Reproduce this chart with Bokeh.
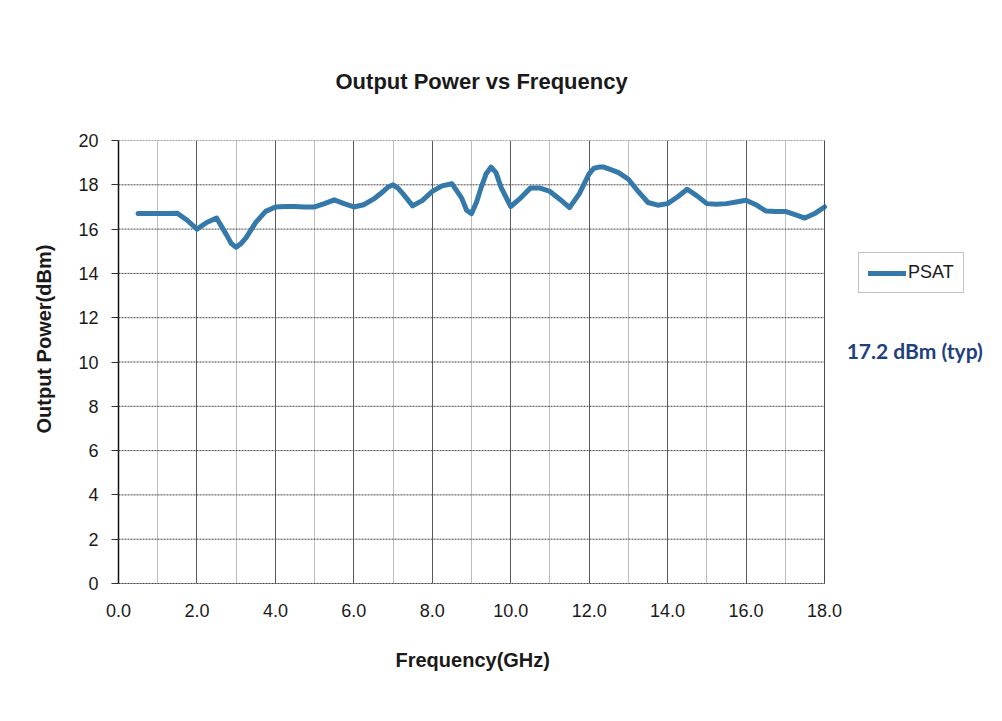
from bokeh.plotting import figure
from bokeh.models import (Range1d, FixedTicker, Label, Legend, LegendItem, Span, Title,
                          CustomJSTickFormatter)
from bokeh.embed import file_html
from bokeh.resources import INLINE

# ---- data ----
freq_ghz = [0.5, 0.75, 1.0, 1.25, 1.5, 1.75, 2.0, 2.25, 2.5, 2.75, 2.875, 3.0, 3.125, 3.25,
            3.5, 3.75, 4.0, 4.25, 4.5, 4.75, 5.0, 5.25, 5.5, 5.75, 6.0, 6.25, 6.5, 6.75,
            6.875, 7.0, 7.125, 7.25, 7.5, 7.75, 8.0, 8.25, 8.5, 8.75, 8.875, 9.0, 9.125,
            9.25, 9.375, 9.5, 9.625, 9.75, 10.0, 10.25, 10.5, 10.75, 11.0, 11.25, 11.5,
            11.75, 12.0, 12.125, 12.25, 12.375, 12.5, 12.75, 13.0, 13.25, 13.5, 13.75,
            14.0, 14.25, 14.5, 14.75, 15.0, 15.25, 15.5, 15.75, 16.0, 16.25, 16.5, 16.75,
            17.0, 17.25, 17.5, 17.75, 18.0]
psat_dbm = [16.7, 16.7, 16.7, 16.7, 16.72, 16.4, 16.0, 16.3, 16.5, 15.75, 15.35, 15.18, 15.35,
            15.6, 16.3, 16.8, 17.0, 17.02, 17.02, 17.0, 17.0, 17.15, 17.32, 17.15, 17.0,
            17.1, 17.35, 17.7, 17.9, 18.0, 17.85, 17.6, 17.05, 17.3, 17.7, 17.95, 18.05,
            17.4, 16.85, 16.7, 17.2, 17.9, 18.5, 18.8, 18.55, 17.9, 17.02, 17.4, 17.85,
            17.85, 17.7, 17.35, 16.97, 17.6, 18.5, 18.75, 18.8, 18.8, 18.72, 18.55, 18.25,
            17.7, 17.2, 17.08, 17.15, 17.45, 17.8, 17.5, 17.15, 17.12, 17.15, 17.22, 17.3,
            17.1, 16.82, 16.8, 16.8, 16.65, 16.5, 16.7, 17.0]
x_ticks = [0, 2, 4, 6, 8, 10, 12, 14, 16, 18]
x_minor = [1, 3, 5, 7, 9, 11, 13, 15, 17]
y_ticks = [0, 2, 4, 6, 8, 10, 12, 14, 16, 18, 20]
series_name = "PSAT"
title_text = "Output Power vs Frequency"
x_title = "Frequency(GHz)"
y_title = "Output Power(dBm)"
note_text = "17.2 dBm (typ)"

FONT = "Liberation Sans"
LINE_COLOR = "#3479a9"
TEXT_COLOR = "#1a1a1a"
X_MAX = 18.0
Y_MAX = 20.0

# geometry (pixels)
W, H = 1000, 715
LEFT, TOP = 118, 140
PLOT_RIGHT, FRAME_RIGHT, BOTTOM = 824, 990, 583
x_end = X_MAX * (FRAME_RIGHT - LEFT) / (PLOT_RIGHT - LEFT)   # frame extends right to hold legend/note

p = figure(width=W, height=H, output_backend="svg", toolbar_location=None,
           x_range=Range1d(0, x_end), y_range=Range1d(0, Y_MAX),
           min_border_left=LEFT, min_border_right=W - FRAME_RIGHT, min_border_top=TOP,
           min_border_bottom=H - BOTTOM,
           background_fill_color="white", border_fill_color="white")
p.outline_line_color = None

# title
p.title.text = title_text
p.title.align = "left"
p.title.offset = 217
p.title.standoff = 93
p.title.text_font = FONT
p.title.text_font_style = "bold"
p.title.text_font_size = "22px"
p.title.text_color = TEXT_COLOR

# x axis
p.xaxis.ticker = FixedTicker(ticks=x_ticks, minor_ticks=x_minor)
p.xaxis.bounds = (0, X_MAX)
p.xaxis.formatter = CustomJSTickFormatter(code="return tick.toFixed(1);")
p.xaxis.axis_line_color = "#444444"
p.xaxis.axis_line_dash = "2 1"
p.xaxis.major_tick_line_color = None
p.xaxis.minor_tick_line_color = None
p.xaxis.major_label_standoff = 14

# y axis
p.yaxis.ticker = FixedTicker(ticks=y_ticks, minor_ticks=[])
p.yaxis.axis_line_color = "#111111"
p.yaxis.axis_line_width = 1.5
p.yaxis.major_tick_line_color = "#333333"
p.yaxis.major_tick_out = 7
p.yaxis.major_tick_in = 0
p.yaxis.minor_tick_line_color = None
p.yaxis.major_label_standoff = 13

for ax in (p.xaxis[0], p.yaxis[0]):
    ax.major_label_text_font = FONT
    ax.major_label_text_font_size = "18px"
    ax.major_label_text_color = TEXT_COLOR

# axis titles as side-panel titles so they can be positioned like the reference
p.add_layout(Title(text=x_title, align="left", offset=277, standoff=54,
                   text_font=FONT, text_font_style="bold", text_font_size="20px",
                   text_color=TEXT_COLOR), "below")
p.add_layout(Title(text=y_title, align="left", offset=150, standoff=41,
                   text_font=FONT, text_font_style="bold", text_font_size="20px",
                   text_color=TEXT_COLOR), "left")

# grids: vertical from the x grid, horizontal dotted lines limited to the plot area
p.xgrid.grid_line_color = "#5a5a5a"
p.xgrid.grid_line_width = 1
p.xgrid.minor_grid_line_color = "#bdbdbd"
p.xgrid.minor_grid_line_width = 1
p.ygrid.grid_line_color = None
p.segment(x0=[0] * len(y_ticks), x1=[X_MAX] * len(y_ticks), y0=y_ticks, y1=y_ticks,
          line_color="#444444", line_dash="2 1", line_width=1)
p.add_layout(Span(location=X_MAX, dimension="height", line_color="#444444",
                  line_dash="2 1", line_width=1))

# data line
r = p.line(freq_ghz, psat_dbm, line_color=LINE_COLOR, line_width=5, line_join="round",
           line_cap="round")

# legend
legend = Legend(items=[LegendItem(label=series_name, renderers=[r])],
                location=(740, 290), orientation="vertical",
                border_line_color="#888888", border_line_width=1,
                background_fill_color="white", background_fill_alpha=1,
                label_text_font=FONT, label_text_font_size="18px", label_text_color=TEXT_COLOR,
                glyph_width=38, glyph_height=20, label_height=20, label_standoff=2,
                padding=9, margin=0, spacing=0)
p.add_layout(legend)

# typical value note
p.add_layout(Label(x=20.3, y=10.52, text=note_text, text_align="center", text_baseline="middle",
                   text_font="Lato", text_font_style="bold", text_font_size="21px",
                   text_color="#1f3f7f"))

open("out.html", "w").write(file_html(p, INLINE))
